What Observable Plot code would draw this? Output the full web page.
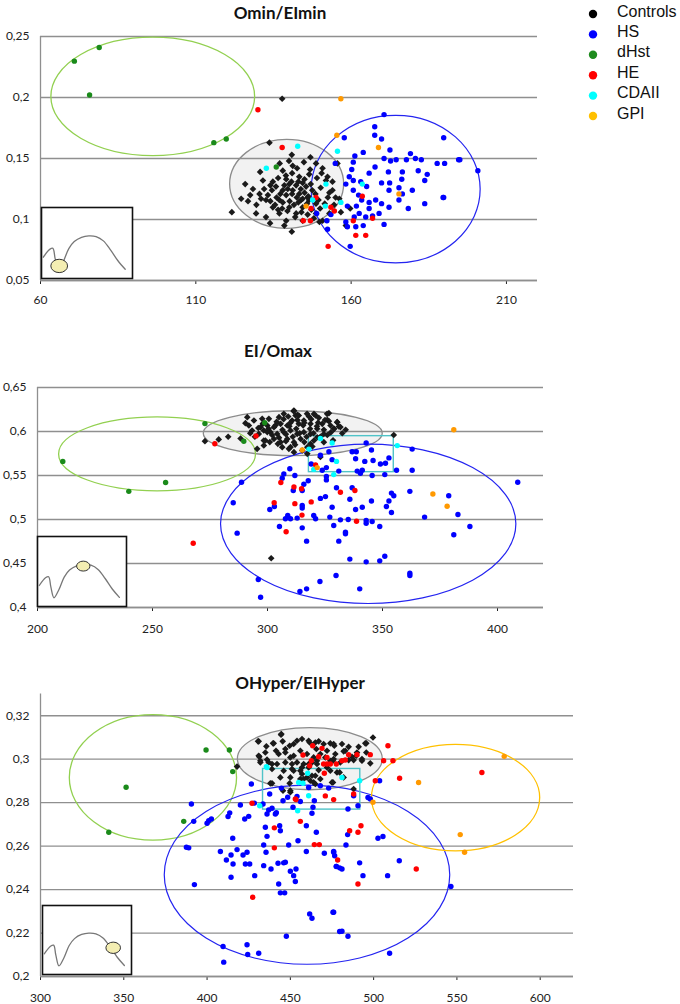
<!DOCTYPE html>
<html><head><meta charset="utf-8">
<script src="https://cdn.jsdelivr.net/npm/d3@7"></script>
<script src="https://cdn.jsdelivr.net/npm/@observablehq/plot@0.6"></script>
<style>
body{margin:0;background:#fff;}
#root{position:relative;width:680px;height:1004px;overflow:hidden;background:#fff;}
.title{position:absolute;font-family:Lato,sans-serif;font-weight:700;font-size:17px;color:#111;transform:translate(-50%,-50%);white-space:nowrap;}
</style></head><body><div id="root"></div>
<script>
// ---------- categories ----------
const SERIES = ["Controls","HS","dHst","HE","CDAII","GPI"];
const SERIES_COLORS = ["#1a1a1a","#0000ff","#1a8a1a","#ff0000","#00ffff","#ff9900"];
const LEGEND_COLORS = ["#000000","#0000ff","#1e8b1e","#ff0000","#00ffff","#ffc000"];
const TITLES = ["Omin/EImin","EI/Omax","OHyper/EIHyper"];

// ---------- tick labels ----------
const p1XTicks = [60,110,160,210];
const p1YTicks = [0.05,0.1,0.15,0.2,0.25];
const p2XTicks = [200,250,300,350,400];
const p2YTicks = [0.4,0.45,0.5,0.55,0.6,0.65];
const p3XTicks = [300,350,400,450,500,550,600];
const p3YTicks = [0.2,0.22,0.24,0.26,0.28,0.3,0.32];

// ---------- Panel 1: Omin / EImin ----------
const p1Controls = [[133.7,0.163],[137.8,0.199],[140.9,0.153],[146.9,0.151],[130.7,0.139],[125.9,0.129],[124.6,0.117],[126.8,0.115],[121.6,0.106],[129.4,0.105],[132.6,0.102],[133.9,0.097],[138.5,0.095],[140.9,0.090],[131.6,0.132],[134.8,0.131],[138,0.140],[139.1,0.133],[141.2,0.144],[143.3,0.135],[144.4,0.130],[146.5,0.137],[148.7,0.146],[150.8,0.142],[152.4,0.135],[154,0.131],[153,0.122],[155,0.118],[130.5,0.121],[132.6,0.116],[134.8,0.110],[136.9,0.116],[139.1,0.12],[141.2,0.124],[143.3,0.121],[145.5,0.127],[140.1,0.110],[142.3,0.105],[144.4,0.110],[146.5,0.116],[148.7,0.113],[136.9,0.105],[139.1,0.099],[144.4,0.099],[148.7,0.105],[150.8,0.099],[135.8,0.127],[138,0.124],[140.1,0.129],[142.3,0.128],[143.9,0.116],[146,0.118],[155.6,0.146],[151.9,0.132],[154,0.124],[156.2,0.117],[156.7,0.106],[149.8,0.098],[159.7,0.109],[158.3,0.095],
[138.5,0.128],[139.6,0.125],[141,0.121],[142.5,0.118],[143.8,0.125],[145,0.122],[146.2,0.119],[147.5,0.124],[140.2,0.115],[141.6,0.112],[143,0.114],[144.4,0.117],[145.8,0.113],[147.2,0.108],[148.5,0.121],[149.5,0.116],[150.2,0.126],[137.2,0.121],[136,0.118],[134.5,0.124],[133.2,0.12],[135.5,0.112],[137.8,0.109],[139.5,0.107],[142,0.102],[144,0.106],[146,0.104],[148,0.101],[150,0.109],[151.5,0.113],[139,0.136],[141,0.138],[143,0.131],[145,0.133],[147,0.129],[149,0.134],[136.5,0.134],[134,0.128],[132,0.125],[131,0.117],[129.5,0.112],[128.4,0.125],[127.5,0.12],[142.6,0.142],[144.8,0.147],[140,0.148],[137,0.146],[152.5,0.118],[154.5,0.112],[153,0.105],[140.8,0.131],[138,0.114],[136.5,0.108],[134,0.115],[146.8,0.141],[150.5,0.138]];
const p1HS = [[170.6,0.186],[167.6,0.176],[167.6,0.169],[169.8,0.166],[157.8,0.167],[189.8,0.167],[163.9,0.155],[172.5,0.157],[179.1,0.154],[161.2,0.152],[160.7,0.147],[170.6,0.150],[172.7,0.148],[174.5,0.149],[177.8,0.149],[180.7,0.150],[182.6,0.149],[187.7,0.146],[190.1,0.146],[195,0.149],[154.9,0.146],[160.2,0.141],[167.7,0.143],[172,0.139],[176.5,0.139],[181.6,0.140],[184.5,0.137],[200.8,0.140],[165.8,0.138],[159.4,0.135],[158.3,0.129],[160.7,0.132],[163.1,0.131],[165,0.127],[169.8,0.130],[172.4,0.130],[172.2,0.124],[176.3,0.133],[183.7,0.132],[179.7,0.124],[189.6,0.118],[160.7,0.124],[162.4,0.120],[163.4,0.116],[165.8,0.114],[167.9,0.116],[169.8,0.113],[172.2,0.110],[175.4,0.116],[178.4,0.109],[183.7,0.113],[158.8,0.111],[161.7,0.111],[165.8,0.109],[169,0.105],[170.6,0.096],[164.7,0.102],[162.6,0.105],[161,0.102],[158.3,0.098],[158.8,0.094],[161.5,0.094],[163.9,0.095],[152.4,0.092],[152.2,0.099],[153.5,0.104],[148.9,0.105],[159.7,0.078],[166.9,0.103],[176.5,0.121],[175.4,0.126],[194.6,0.149],[189.8,0.118]];
const p1dHst = [[70.9,0.2298],[78.9,0.241],[75.8,0.202],[115.8,0.163],[119.8,0.166],[135.9,0.143]];
const p1HE = [[130,0.190],[137.8,0.159],[148.7,0.118],[147.1,0.109],[144.6,0.099],[146.9,0.099],[153.5,0.110],[154.6,0.107],[163.6,0.119],[160.7,0.099],[166.9,0.101],[161.5,0.087],[164.7,0.087],[152.6,0.078]];
const p1CDAII = [[142.8,0.160],[132.7,0.142],[155.6,0.156],[151.9,0.129],[151.7,0.111],[156.7,0.114],[163.6,0.129],[147.6,0.116]];
const p1GPI = [[156.7,0.199],[155.4,0.169],[168.8,0.159],[175.4,0.121],[145.5,0.111]];
// ellipses: kind, cx, cy, rx, ry (data units)
const p1Ellipses = [["grey",139.4,0.1288,18.35,0.0365],["green",96.3,0.2005,32.8,0.0485],["blue",174.5,0.1245,27.2,0.0605]];

// ---------- Panel 2: EI / Omax ----------
const p2Controls = [[301.6,0.456],[354.9,0.596],[323,0.571],[272.8,0.589],[278.8,0.591],[282.9,0.594],[288.3,0.592],
[311.5,0.6238],[312.2,0.6182],[320.2,0.620],[326.7,0.6208],[330.3,0.6106],[326,0.6132],[327.4,0.6068],[331,0.6057],[323.8,0.6087],[321.6,0.6031],[318.7,0.6087],[315.8,0.6125],[313.6,0.6087],[310.7,0.6125],[308.6,0.6068],[305.7,0.6087],[302.8,0.6049],[299.9,0.6068],[298.4,0.6011],[301.3,0.5992],[304.2,0.5973],[307.1,0.5992],[310,0.6011],[312.9,0.5973],[315.8,0.5992],[318.7,0.5973],[321.6,0.5935],[324.5,0.5973],[314.4,0.5916],[311.5,0.5879],[308.6,0.5916],[305.7,0.5879],[302.8,0.5916],[299.1,0.5898],[298.4,0.5841],[309.3,0.5803],[311.5,0.5765],[318.7,0.586],[320.2,0.5898],[317.3,0.5746],[324.5,0.5879],[307.1,0.6201],[305,0.6163],[300.6,0.6144],[313.6,0.6182],[317.2,0.6201],[322.3,0.6155],[328.8,0.6030],[306.4,0.5822],[315.1,0.5784],
[291.9,0.6068],[293.3,0.6011],[294.1,0.6125],[296.2,0.5973],[295.5,0.5803],[290.4,0.6095],[297.7,0.6144],[297,0.6049],[298.4,0.5898],[299.9,0.5993],[291.2,0.6163],
[325.9,0.6201],[326.7,0.6117],[330.3,0.6106],[331.7,0.605],[311.4,0.6231],[320.9,0.6182],[310,0.5822],[317.3,0.5822],
[300.5,0.603],[303.5,0.607],[306.5,0.602],[309.5,0.606],[312.5,0.603],[315.5,0.607],[318.5,0.603],[321.5,0.606],[324.5,0.602],[327.5,0.599],[302,0.596],[305,0.593],[308,0.597],[311,0.594],[314,0.598],[317,0.594],[320,0.598],[323,0.594],[326,0.596],[329,0.603],[304,0.611],[307,0.614],[310,0.61],[313,0.613],[316,0.61],[319,0.614],[322,0.61],[325,0.613],[301,0.588],[304.5,0.586],[308,0.589],[312,0.585],[316,0.588],[319.5,0.583],[296,0.604],[298,0.609],[294.5,0.594],[292.5,0.598],[332.5,0.598],[334,0.602],[328.5,0.59],[313,0.619],[309,0.617],[318,0.617]];
const p2HS = [[342.9,0.587],[345.2,0.579],[362.9,0.580],[326.7,0.577],[338.6,0.577],[336.8,0.577],[323,0.573],[328.1,0.568],[338.3,0.569],[342.3,0.566],[345.9,0.567],[352.8,0.570],[349.1,0.563],[351.3,0.564],[319,0.563],[325.6,0.559],[323.8,0.556],[331,0.555],[339,0.555],[341.2,0.556],[340.4,0.5526],[345.5,0.550],[351,0.551],[356.1,0.556],[362.9,0.556],[309.7,0.5576],[307.1,0.5518],[306.4,0.547],[311.9,0.550],[317.7,0.544],[315.8,0.540],[325.6,0.549],[325.6,0.545],[288.7,0.5424],[311.2,0.533],[315.1,0.533],[330,0.536],[336.8,0.536],[335.8,0.523],[323,0.524],[325.2,0.526],[345.2,0.521],[353.9,0.530],[354.9,0.527],[361.9,0.532],[378.8,0.527],[352.8,0.521],[285.1,0.519],[301,0.5114],[303,0.5148],[315.1,0.5159],[315.1,0.513],[328.1,0.514],[341.2,0.514],[351.7,0.5148],[338.3,0.5114],[353.9,0.508],[382.8,0.5057],[308.8,0.5046],[307.8,0.5008],[310,0.5008],[312.9,0.5016],[320.1,0.5046],[320.9,0.5008],[327.1,0.5027],[331.7,0.4996],[335.1,0.5],[342.9,0.4989],[342.9,0.4958],[345.5,0.4977],[368.3,0.5027],[305.2,0.4921],[315.1,0.4905],[328.8,0.4932],[333.9,0.4856],[348.8,0.4920],[388,0.492],[286.8,0.4845],[333.9,0.4837],[381,0.4826],[317,0.4754],[331,0.4754],[335.8,0.455],[342.9,0.4519],[348.8,0.453],[351,0.4583],[361.9,0.439],[361.9,0.4364],[329.8,0.4364],[322.8,0.4296],[296,0.4318],[317,0.4212],[314.1,0.4182],[340.1,0.4212],[297,0.4117],[408.8,0.5424]];
const p2dHst = [[211,0.566],[239.7,0.532],[255.7,0.542],[272.8,0.609],[289.7,0.589],[298.8,0.610]];
const p2HE = [[277.1,0.586],[295,0.595],[267.7,0.473],[305.8,0.542],[302.9,0.519],[308.1,0.486],[311.5,0.537],[314.8,0.535],[315,0.505],[319,0.520],[320.9,0.562],[331.7,0.531],[338,0.533],[311.9,0.518],[338.7,0.498]];
const p2CDAII = [[323,0.592],[328.1,0.587],[318,0.580],[330,0.566],[328.8,0.551],[356.4,0.584],[320.1,0.557]];
const p2GPI = [[381,0.602],[371.9,0.529],[378.1,0.515],[315.1,0.579],[321.6,0.559]];
const p2Ellipses = [["grey",311.2,0.5975,38.9,0.0255],["green",252.2,0.574,42.8,0.042],["blue",344,0.4945,64.2,0.0905]];
const p2Box = [318,354.9,0.5538,0.5947]; // x1, x2, y1, y2

// ---------- Panel 3: OHyper / EIHyper ----------
const p3Controls = [[430.6,0.3082],[444.6,0.3116],[445.4,0.3082],[439.6,0.3073],[435.6,0.3059],[431.4,0.3011],[432,0.2993],[436,0.2998],[439,0.2978],[441.4,0.3039],[447,0.3047],[452,0.307],[457,0.3093],[461,0.3085],[465,0.3077],[467,0.3082],[474,0.3073],[450,0.3008],[454,0.2985],[457,0.2962],[461,0.2978],[466,0.2993],[471,0.3008],[476,0.3001],[452,0.2947],[450,0.2916],[456,0.2909],[460,0.2916],[465,0.2924],[468,0.2909],[445.6,0.2855],[450,0.2848],[464,0.2893],[474,0.2947],[439,0.2889],[478,0.2939],[418,0.2966],
[499.6,0.31],[495.6,0.3073],[491,0.3057],[481,0.307],[476.4,0.3062],[483,0.3039],[495.6,0.3031],[498,0.2981],[493,0.2993],[488,0.2996],[489.6,0.3016],[475.6,0.2993],[475.6,0.2893],[488,0.2863],[479.6,0.2939],
[444.4,0.3113],[431,0.3082],[440,0.3073],[449.6,0.3062],[454,0.3085],[461.6,0.3077],[465.6,0.3047],[470,0.307],[476,0.307],[485,0.3057],[490,0.3031],[495,0.3073],[431,0.3016],[435,0.3031],[443,0.3024],[447,0.3031],[452,0.3016],[456,0.3039],[460,0.3024],[464,0.3008],[468,0.3024],[472,0.3039],[477,0.3024],[482,0.3036],[487,0.3011],[493,0.3001],[437,0.2985],[442,0.2978],[447,0.2985],[451,0.2978],[458,0.2978],[463,0.2985],[466,0.2978],[474,0.2993],[480,0.2985],[485,0.2996],[439,0.2955],[446,0.2947],[451,0.2955],[456,0.2947],[461,0.2962],[467,0.295],[472,0.2962],[438,0.2889],[449.6,0.2889],[457,0.2932],[458,0.2909],[462,0.2901],[463,0.2924],[465,0.2886],[475,0.2893],[450,0.2855],[444,0.2916],[432,0.2985],[482,0.2916]];
const p3HS = [[426.6,0.2886],[390.6,0.2794],[392,0.2714],[387.6,0.2595],[389,0.2592],[392.4,0.2423],[400,0.2705],[401,0.2717],[402.6,0.2725],[408,0.2575],[409.6,0.2138],[410,0.2066],[411.6,0.2536],[412.6,0.2736],[413.6,0.2753],[414.4,0.2559],[414.4,0.2457],[415.4,0.2636],[415.6,0.2518],[418,0.2584],[420,0.2789],[422.6,0.2725],[421.6,0.2559],[423,0.2518],[424,0.2572],[424,0.2146],[424.4,0.2101],[425,0.2737],[425.6,0.2518],[428.6,0.2464],[428.4,0.2798],[431,0.2107],[433.6,0.2794],[434,0.2605],[434,0.251],[435,0.2687],[435.4,0.2572],[436,0.2645],[436,0.2748],[437,0.2766],[437.6,0.284],[438.4,0.2495],[439,0.2774],[441,0.2748],[441.6,0.2754],[442.6,0.2521],[443,0.2426],[443.6,0.2694],[444,0.2671],[444,0.2385],[444.6,0.2867],[445.6,0.2809],[446,0.2523],[446.6,0.2385],[447,0.2526],[447.6,0.2185],[448.4,0.2825],[449,0.2605],[450,0.2484],[451.6,0.2779],[452,0.2464],[453,0.2437],[453.4,0.2495],[454,0.2829],[454.6,0.2625],[456,0.2805],[459.6,0.2575],[459.6,0.2694],[461,0.287],[461.6,0.2288],[463,0.2268],[463,0.2751],[463.6,0.2779],[464.4,0.2809],[465.6,0.2664],[468,0.2878],[470.4,0.2567],[473,0.2867],[475.6,0.2296],[476,0.2576],[476.6,0.2556],[477.6,0.2506],[479.6,0.2207],[479.6,0.25],
[503.6,0.2901],[496.6,0.2824],[498,0.2817],[490.6,0.2786],[488,0.2832],[484.6,0.2771],[484.4,0.2653],[483.4,0.2605],[502.6,0.2636],[505.6,0.2644],[476,0.2572],[477.6,0.2507],[481,0.2495],[491.6,0.2523],[493.6,0.2464],[508.4,0.2464],[515.4,0.2533],[546.4,0.2414],[476,0.2296],[481,0.2208],[484.6,0.2185],[509.6,0.2107]];
const p3dHst = [[341,0.2664],[351.4,0.2871],[386,0.2714],[399.4,0.3042],[413.4,0.3042],[415.4,0.2943]];
const p3HE = [[508.6,0.3062],[506,0.2993],[511.6,0.2993],[515.6,0.2912],[501,0.2901],[565,0.2939],[476,0.2814],[488,0.284],[485.6,0.2671],[492.4,0.2694],[490.6,0.2664],[478.4,0.2536],[525.6,0.2495],[490.6,0.2426],[498,0.3021],[485,0.3021],[483,0.2996],[477.6,0.2978],
[427,0.2797],[440.4,0.2684],[440.4,0.2592],[427.4,0.2365],[453.4,0.2814],[456,0.2714],[464.4,0.2607],[467.4,0.2607],[471,0.2831],[457.6,0.3019],[463.4,0.3062],[469,0.305],[470.4,0.2935],[472,0.2978],
[467,0.3011],[462.6,0.2993],[470,0.2978],[474,0.2978],[481,0.2993],[490,0.3021],[461.6,0.297],[472,0.3008],[453,0.2817]];
const p3CDAII = [[435.6,0.2966],[460.4,0.2935],[455,0.2893],[457.6,0.2889],[481,0.2916],[491.6,0.2901],[431.6,0.2786],[461,0.2832],[454.4,0.2763],[436,0.2962]];
const p3GPI = [[578.4,0.3013],[527,0.2893],[499.6,0.2802],[552,0.2653],[554.6,0.2572]];
const p3Ellipses = [["grey",462,0.3,43.5,0.0143],["green",367.8,0.2914,50.2,0.0289],["blue",460.3,0.2466,85.7,0.0412],["gold",549.5,0.2821,50.5,0.0245]];
const p3Box = [433.6,492,0.2768,0.2955];

// ---------- inset icon (normalised 0..1, y down) ----------
const insetCurve = [[0.02,0.70],[0.09,0.59],[0.125,0.575],[0.15,0.72],[0.185,0.875],[0.24,0.76],[0.3,0.58],[0.36,0.48],[0.44,0.42],[0.52,0.40],[0.6,0.41],[0.68,0.47],[0.76,0.6],[0.84,0.75],[0.92,0.87]];
const insetMarks = [["spot",0.2,0.83,0.092,0.094],["spot",0.52,0.43,0.075,0.071],["spot",0.80,0.62,0.082,0.082]];

// ---------- helpers ----------
const ELLIPSE_STYLE = {
  grey:{fill:"#f2f2f2", stroke:"#8c8c8c", sw:1.3},
  green:{fill:"none", stroke:"#92d050", sw:1.3},
  blue:{fill:"none", stroke:"#2424f0", sw:1.2},
  gold:{fill:"none", stroke:"#ffc000", sw:1.3},
  spot:{fill:"#f4eeb2", stroke:"#333333", sw:1}
};
const NS = "http://www.w3.org/2000/svg";
function ellipseMark(list) {
  return (index, scales) => {
    const g = document.createElementNS(NS, "g");
    for (const [kind, cx, cy, rx, ry] of list) {
      const st = ELLIPSE_STYLE[kind];
      const X = scales.x(cx), Y = scales.y(cy);
      const e = document.createElementNS(NS, "ellipse");
      e.setAttribute("cx", X);
      e.setAttribute("cy", Y);
      e.setAttribute("rx", Math.abs(scales.x(cx + rx) - X));
      e.setAttribute("ry", Math.abs(scales.y(cy + ry) - Y));
      e.setAttribute("fill", st.fill);
      e.setAttribute("stroke", st.stroke);
      e.setAttribute("stroke-width", st.sw);
      g.appendChild(e);
    }
    return g;
  };
}
function rows(lists) {
  const out = [];
  SERIES.forEach((s, i) => { for (const [x, y] of lists[i]) out.push({s, x, y}); });
  return out;
}
const commaFmt = d => String(d).replace(".", ",");
const GRID = "#8f8f8f";

function panel(cfg) {
  const data = rows(cfg.lists);
  const marks = [
    ellipseMark(cfg.ellipses.filter(e => e[0] === "grey")),
    Plot.ruleY(cfg.yTicks, {stroke: GRID, strokeWidth: 1.3}),
    Plot.ruleX([cfg.xDomain[0]], {stroke: GRID, strokeWidth: 1.3}),
    Plot.ruleY([cfg.yDomain[0]], {stroke: GRID, strokeWidth: 1.3}),
    ellipseMark(cfg.ellipses.filter(e => e[0] !== "grey"))
  ];
  if (cfg.box) marks.push(Plot.rect([cfg.box], {x1: d => d[0], x2: d => d[1], y1: d => d[2], y2: d => d[3], fill: "none", stroke: "#4fc3c8", strokeWidth: 1.4}));
  SERIES.forEach((s, i) => {
    marks.push(Plot.dot(data.filter(d => d.s === s), {
      x: "x", y: "y",
      r: s === "Controls" ? 3.0 : 2.7,
      symbol: s === "Controls" ? "diamond2" : "circle",
      fill: SERIES_COLORS[i], stroke: "none"
    }));
  });
  return Plot.plot({
    width: 680, height: cfg.height,
    marginTop: cfg.m[0], marginRight: cfg.m[1], marginBottom: cfg.m[2], marginLeft: cfg.m[3],
    x: {domain: cfg.xDomain, ticks: cfg.xTicks, tickSize: 4, tickPadding: cfg.xPad, tickFormat: d => String(d), label: null},
    y: {domain: cfg.yDomain, ticks: cfg.yTicks, tickSize: 0, tickPadding: 11, tickFormat: commaFmt, label: null},
    style: {fontFamily: "Lato, sans-serif", fontSize: "12px", color: "#222", background: "transparent", overflow: "visible"},
    marks
  });
}

function inset(w, h, spot) {
  return Plot.plot({
    width: w, height: h, margin: 0,
    x: {domain: [0, 1], range: [0, w], axis: null},
    y: {domain: [0, 1], range: [0, h], axis: null},
    style: {background: "transparent", overflow: "visible"},
    marks: [
      Plot.frame({fill: "#fff", stroke: "#111", strokeWidth: 1.6}),
      Plot.line(insetCurve, {x: d => d[0], y: d => d[1], stroke: "#777", strokeWidth: 1.3, curve: "catmull-rom"}),
      ellipseMark([spot])
    ]
  });
}

const root = document.getElementById("root");
function place(node, left, top) {
  node.style.position = "absolute";
  node.style.left = left + "px";
  node.style.top = top + "px";
  root.appendChild(node);
}

const panels = [
  {top: 0, height: 320, m: [36, 143, 40, 40], xDomain: [60, 220], yDomain: [0.05, 0.25], xTicks: p1XTicks, yTicks: p1YTicks, xPad: 11,
   lists: [p1Controls, p1HS, p1dHst, p1HE, p1CDAII, p1GPI], ellipses: p1Ellipses, box: null,
   title: [280, 12], inset: [41, 207, 91, 71]},
  {top: 320, height: 320, m: [67, 137, 33, 37], xDomain: [200, 420], yDomain: [0.4, 0.65], xTicks: p2XTicks, yTicks: p2YTicks, xPad: 13,
   lists: [p2Controls, p2HS, p2dHst, p2HE, p2CDAII, p2GPI], ellipses: p2Ellipses, box: p2Box,
   title: [278, 350], inset: [37, 536, 89, 70]},
  {top: 640, height: 364, m: [53.5, 107, 28, 40], xDomain: [300, 620], yDomain: [0.2, 0.33], xTicks: p3XTicks, yTicks: p3YTicks, xPad: 13,
   lists: [p3Controls, p3HS, p3dHst, p3HE, p3CDAII, p3GPI], ellipses: p3Ellipses, box: p3Box,
   title: [300, 682], inset: [42, 905, 89, 69]}
];

panels.forEach((p, i) => {
  place(panel(p), 0, p.top);
  const [l, t, w, h] = p.inset;
  place(inset(w, h, insetMarks[i]), l, t);
  const tt = document.createElement("div");
  tt.className = "title";
  tt.textContent = TITLES[i];
  tt.style.left = p.title[0] + "px";
  tt.style.top = p.title[1] + "px";
  root.appendChild(tt);
});

// legend
const leg = d3.create("svg").attr("width", 105).attr("height", 130);
SERIES.forEach((s, i) => {
  leg.append("circle").attr("cx", 18).attr("cy", 14 + 20.4 * i).attr("r", 4.2).attr("fill", LEGEND_COLORS[i]);
  leg.append("text").attr("x", 42).attr("y", 16.5 + 20.4 * i)
    .attr("font-family", "'Liberation Sans', Arial, sans-serif").attr("font-size", 16).attr("fill", "#111").text(s);
});
place(leg.node(), 575, 0);
</script></body></html>
